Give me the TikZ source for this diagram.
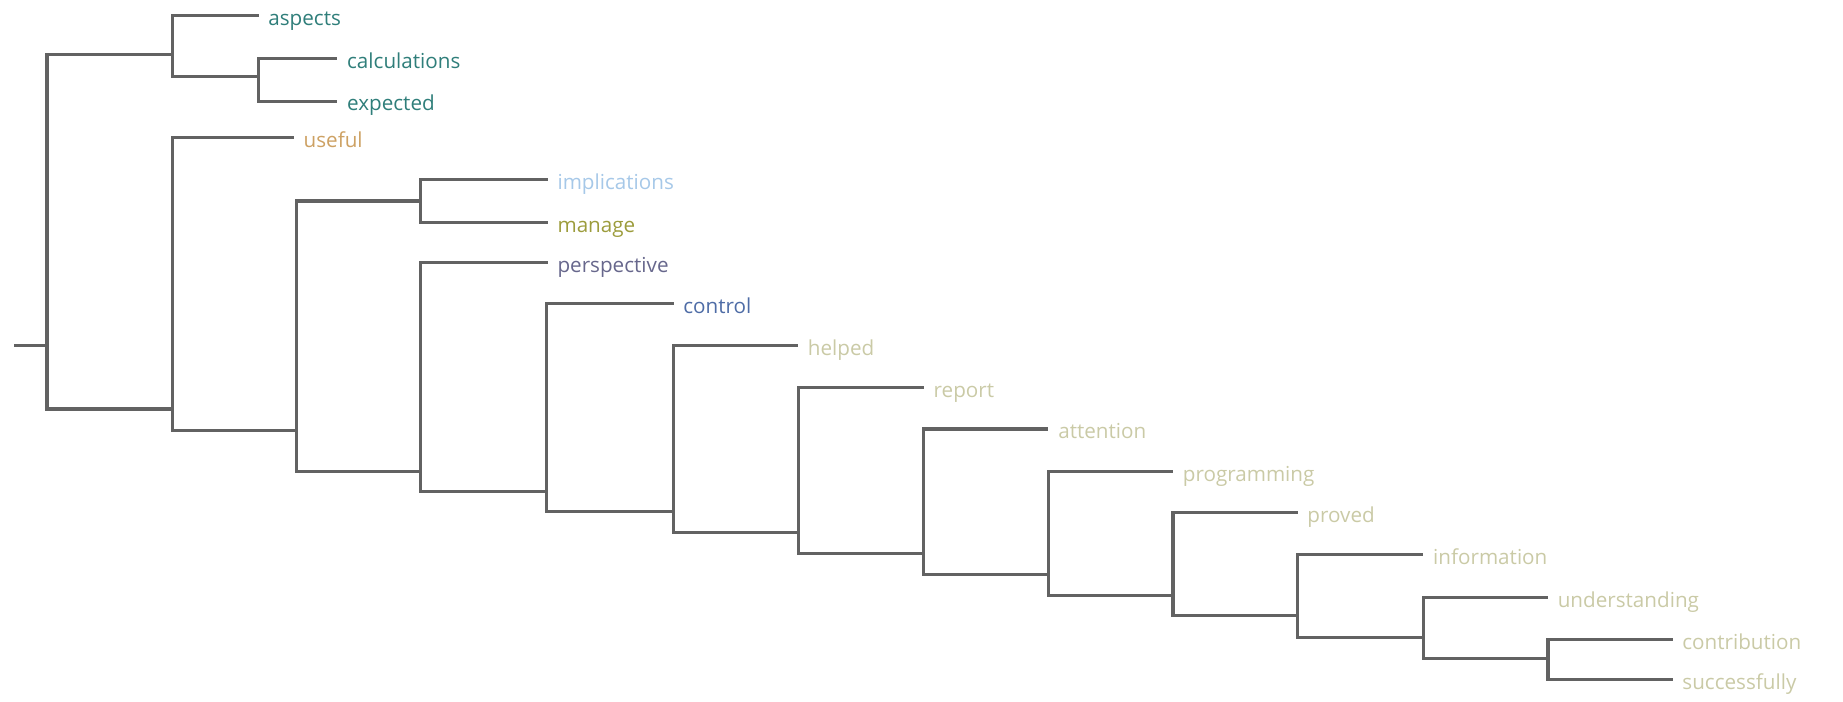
\documentclass[tikz,border=0pt]{standalone}
\usepackage{fontspec}
\setmainfont{Open Sans}
\definecolor{tealtxt}{HTML}{2F7E7A}
\definecolor{usefultxt}{HTML}{CDA163}
\definecolor{impltxt}{HTML}{A6C8E8}
\definecolor{managetxt}{HTML}{9C9C3C}
\definecolor{persptxt}{HTML}{67678C}
\definecolor{controltxt}{HTML}{4E6CA6}
\definecolor{paletxt}{HTML}{CACAA6}
\definecolor{branch}{HTML}{626262}
\begin{document}
\begin{tikzpicture}[x=0.02cm, y=-0.02cm,
  leaf/.style={anchor=west, inner xsep=0.16cm, inner ysep=0pt,
    text height=9.6pt, text depth=0pt, font=\fontsize{10}{12}\selectfont},
  edge/.style={draw=branch, line width=1.5pt}]
\useasboundingbox (0,0) rectangle (1568,597);

% leaf labels, placed at the end of their branch
\node[leaf, text=tealtxt]    (aspects)       at (220,13)   {aspects};
\node[leaf, text=tealtxt]    (calculations)  at (287,50)   {calculations};
\node[leaf, text=tealtxt]    (expected)      at (287,86)   {expected};
\node[leaf, text=usefultxt]  (useful)        at (250,117)  {useful};
\node[leaf, text=impltxt]    (implications)  at (466,153)  {implications};
\node[leaf, text=managetxt]  (manage)        at (466,189)  {manage};
\node[leaf, text=persptxt]   (perspective)   at (466,223)  {perspective};
\node[leaf, text=controltxt] (control)       at (573,258)  {control};
\node[leaf, text=paletxt]    (helped)        at (679,294)  {helped};
\node[leaf, text=paletxt]    (report)        at (786,330)  {report};
\node[leaf, text=paletxt]    (attention)     at (892,365)  {attention};
\node[leaf, text=paletxt]    (programming)   at (998,401)  {programming};
\node[leaf, text=paletxt]    (proved)        at (1104,436) {proved};
\node[leaf, text=paletxt]    (information)   at (1211,472) {information};
\node[leaf, text=paletxt]    (understanding) at (1317,508) {understanding};
\node[leaf, text=paletxt]    (contribution)  at (1423,544) {contribution};
\node[leaf, text=paletxt]    (successfully)  at (1423,578) {successfully};

% merge points of the clusters
\coordinate (stub) at (12,294);
\coordinate (R) at (40,294);
\coordinate (A) at (147,46);
\coordinate (B) at (220,65);
\coordinate (C) at (147,348);
\coordinate (D) at (252,366);
\coordinate (E) at (358,171);
\coordinate (F) at (358,401);
\coordinate (G) at (465,418);
\coordinate (H) at (573,435);
\coordinate (I) at (679,453);
\coordinate (J) at (786,471);
\coordinate (K) at (892,489);
\coordinate (L) at (998,507);
\coordinate (M) at (1104,524);
\coordinate (N) at (1211,542);
\coordinate (O) at (1317,560);

% elbow branches of the dendrogram
\draw[edge] (stub) -- (R);
\draw[edge] (R) |- (A);
\draw[edge] (R) |- (C);
\draw[edge] (A) |- (aspects.west);
\draw[edge] (A) |- (B);
\draw[edge] (B) |- (calculations.west);
\draw[edge] (B) |- (expected.west);
\draw[edge] (C) |- (useful.west);
\draw[edge] (C) |- (D);
\draw[edge] (D) |- (E);
\draw[edge] (D) |- (F);
\draw[edge] (E) |- (implications.west);
\draw[edge] (E) |- (manage.west);
\draw[edge] (F) |- (perspective.west);
\draw[edge] (F) |- (G);
\draw[edge] (G) |- (control.west);
\draw[edge] (G) |- (H);
\draw[edge] (H) |- (helped.west);
\draw[edge] (H) |- (I);
\draw[edge] (I) |- (report.west);
\draw[edge] (I) |- (J);
\draw[edge] (J) |- (attention.west);
\draw[edge] (J) |- (K);
\draw[edge] (K) |- (programming.west);
\draw[edge] (K) |- (L);
\draw[edge] (L) |- (proved.west);
\draw[edge] (L) |- (M);
\draw[edge] (M) |- (information.west);
\draw[edge] (M) |- (N);
\draw[edge] (N) |- (understanding.west);
\draw[edge] (N) |- (O);
\draw[edge] (O) |- (contribution.west);
\draw[edge] (O) |- (successfully.west);
\end{tikzpicture}
\end{document}
